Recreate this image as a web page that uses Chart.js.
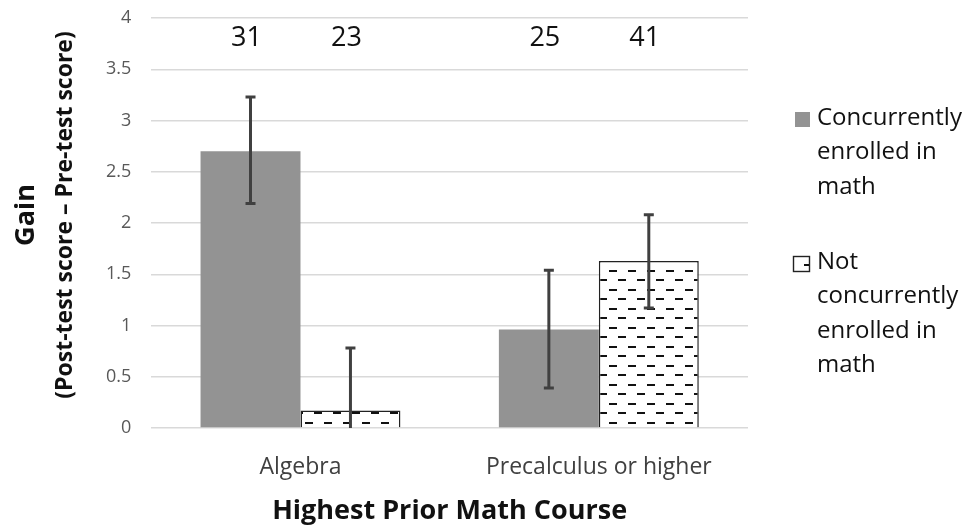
<!DOCTYPE html>
<html>
<head>
<meta charset="utf-8">
<script src="https://cdn.jsdelivr.net/npm/chart.js@4/dist/chart.umd.min.js"></script>
<style>
  html, body { margin: 0; padding: 0; background: #fff; }
  #wrap { width: 979px; height: 528px; position: relative; }
</style>
</head>
<body>
<div id="wrap"><canvas id="c"></canvas></div>
<script>
// Course groups and gain scores
const categories = ['Algebra', 'Precalculus or higher'];
const seriesNames = [
  ['Concurrently', 'enrolled in', 'math'],
  ['Not', 'concurrently', 'enrolled in', 'math']
];
const concurrentGain = [2.70, 0.96];
const notConcurrentGain = [0.17, 1.63];
// Error bar extents (lower, upper)
const concurrentLow = [2.19, 0.39];
const concurrentHigh = [3.23, 1.54];
const notConcurrentLow = [-0.44, 1.17];
const notConcurrentHigh = [0.78, 2.08];
// Sample sizes shown above each bar
const concurrentN = [31, 25];
const notConcurrentN = [23, 41];
const yTicks = [0, 0.5, 1, 1.5, 2, 2.5, 3, 3.5, 4];
const yTickLabels = ['0', '0.5', '1', '1.5', '2', '2.5', '3', '3.5', '4'];

const FONT = "'Open Sans', 'Liberation Sans', sans-serif";

// Dashed-line fill used for the "not concurrently enrolled" bars
function makeDashPattern() {
  const p = document.createElement('canvas');
  p.width = 19; p.height = 19;
  const g = p.getContext('2d');
  g.fillStyle = '#fff';
  g.fillRect(0, 0, 19, 19);
  g.fillStyle = '#111';
  g.fillRect(1, 4, 8, 2);
  g.fillRect(10, 13, 8, 2);
  return g.createPattern(p, 'repeat');
}
const dashPattern = makeDashPattern();

const errorSets = [
  { low: concurrentLow, high: concurrentHigh },
  { low: notConcurrentLow, high: notConcurrentHigh }
];
const nSets = [concurrentN, notConcurrentN];

const errorBars = {
  id: 'errorBars',
  afterDatasetsDraw(chart) {
    const ctx = chart.ctx, y = chart.scales.y, area = chart.chartArea;
    ctx.save();
    ctx.beginPath();
    ctx.rect(area.left, area.top, area.right - area.left, area.bottom - area.top);
    ctx.clip();
    ctx.strokeStyle = '#404040';
    ctx.lineWidth = 3;
    errorSets.forEach((e, di) => {
      chart.getDatasetMeta(di).data.forEach((bar, i) => {
        const x = bar.x;
        const yl = y.getPixelForValue(e.low[i]);
        const yh = y.getPixelForValue(e.high[i]);
        ctx.beginPath();
        ctx.moveTo(x, yl); ctx.lineTo(x, yh);
        ctx.moveTo(x - 5, yh); ctx.lineTo(x + 5, yh);
        ctx.moveTo(x - 5, yl); ctx.lineTo(x + 5, yl);
        ctx.stroke();
      });
    });
    ctx.restore();

    // sample sizes
    ctx.save();
    ctx.fillStyle = '#111';
    ctx.font = '27px ' + FONT;
    ctx.textAlign = 'center';
    ctx.textBaseline = 'middle';
    nSets.forEach((ns, di) => {
      chart.getDatasetMeta(di).data.forEach((bar, i) => {
        ctx.fillText(String(ns[i]), bar.x - 4, y.getPixelForValue(3.8));
      });
    });
    ctx.restore();
  }
};

// Two-line y-axis title and the wrapped legend on the right
const decorations = {
  id: 'decorations',
  afterDraw(chart) {
    const ctx = chart.ctx;
    ctx.save();
    ctx.fillStyle = '#111';
    ctx.translate(0, 215);
    ctx.rotate(-Math.PI / 2);
    ctx.textAlign = 'center';
    ctx.textBaseline = 'middle';
    ctx.font = 'bold 27px ' + FONT;
    ctx.fillText('Gain', 0, 26);
    ctx.font = 'bold 23px ' + FONT;
    ctx.fillText('(Post-test score \u2013 Pre-test score)', 0, 65);
    ctx.restore();

    ctx.save();
    ctx.font = '24px ' + FONT;
    ctx.textBaseline = 'middle';
    const boxX = 795, textX = 817, lineH = 34.5;
    const starts = [118, 262];
    chart.data.datasets.forEach((ds, di) => {
      const y0 = starts[di];
      if (di === 0) {
        ctx.fillStyle = '#939393';
        ctx.fillRect(boxX, y0 - 6, 15, 15);
      } else {
        ctx.fillStyle = '#fff';
        ctx.fillRect(boxX - 2, y0 - 6, 17, 16);
        ctx.strokeStyle = '#222';
        ctx.lineWidth = 1.4;
        ctx.strokeRect(boxX - 1.5, y0 - 5.5, 16, 15);
        ctx.fillStyle = '#111';
        ctx.fillRect(boxX + 9, y0 + 2, 5, 2);
      }
      ctx.fillStyle = '#111';
      seriesNames[di].forEach((line, li) => {
        ctx.fillText(line, textX, y0 + li * lineH);
      });
    });
    ctx.restore();
  }
};

new Chart(document.getElementById('c'), {
  type: 'bar',
  data: {
    labels: categories,
    datasets: [
      {
        label: seriesNames[0].join(' '),
        data: concurrentGain,
        backgroundColor: '#939393',
        borderWidth: 0
      },
      {
        label: seriesNames[1].join(' '),
        data: notConcurrentGain,
        backgroundColor: dashPattern,
        borderColor: '#222',
        borderWidth: 1.5
      }
    ]
  },
  options: {
    responsive: true,
    maintainAspectRatio: false,
    animation: false,
    devicePixelRatio: 1,
    layout: { padding: { left: 86, right: 231, top: 18, bottom: 0 } },
    plugins: {
      legend: { display: false },
      tooltip: { enabled: false }
    },
    datasets: {
      bar: { categoryPercentage: 0.67, barPercentage: 1.0 }
    },
    scales: {
      x: {
        afterFit(scale) { scale.height = 100; },
        grid: { display: false },
        border: { display: false },
        ticks: { color: '#404040', font: { family: FONT, size: 23 }, padding: 18 },
        title: {
          display: true,
          text: 'Highest Prior Math Course',
          color: '#111',
          font: { family: FONT, size: 27, weight: 'bold' },
          padding: { top: 0, bottom: 0 }
        }
      },
      y: {
        min: 0,
        max: 4,
        afterBuildTicks(scale) { scale.ticks = yTicks.map(v => ({ value: v })); },
        afterFit(scale) { scale.paddingTop = 0; scale.paddingBottom = 0; },
        grid: { color: '#d9d9d9', lineWidth: 1.5, drawTicks: false },
        border: { display: false },
        ticks: {
          color: '#595959',
          font: { family: FONT, size: 18 },
          padding: 20,
          callback: (v) => yTickLabels[yTicks.indexOf(v)]
        }
      }
    }
  },
  plugins: [errorBars, decorations]
});
</script>
</body>
</html>
